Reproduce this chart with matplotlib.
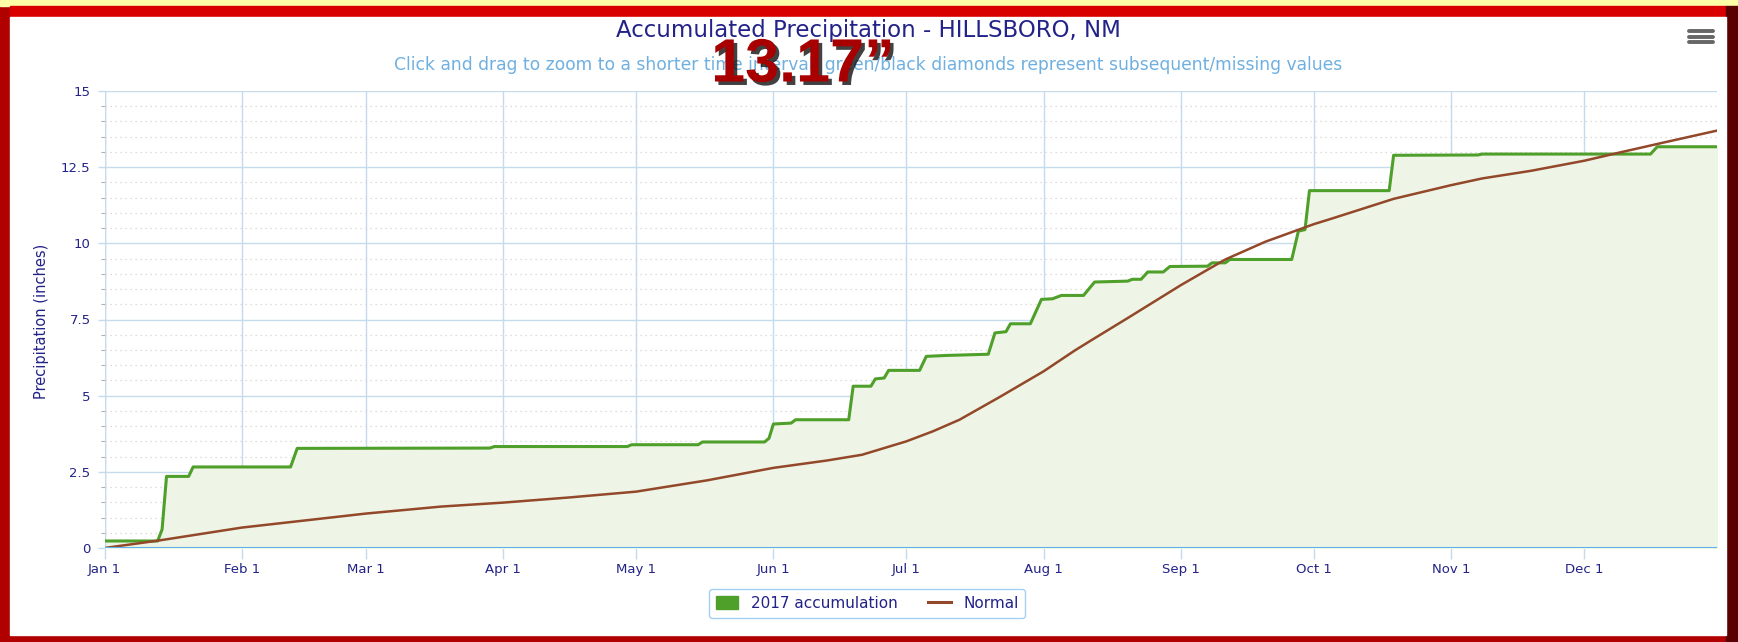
import matplotlib
matplotlib.use('Agg')
import matplotlib.pyplot as plt
import matplotlib.patheffects as pe
from matplotlib.patches import Rectangle, Patch
from matplotlib.lines import Line2D
from matplotlib.ticker import MultipleLocator, FuncFormatter

# Data (day of year, 0 = Jan 1)
month_days = [0, 31, 59, 90, 120, 151, 181, 212, 243, 273, 304, 334]
month_labels = ['Jan 1', 'Feb 1', 'Mar 1', 'Apr 1', 'May 1', 'Jun 1',
                'Jul 1', 'Aug 1', 'Sep 1', 'Oct 1', 'Nov 1', 'Dec 1']

acc_day = [0, 12, 13, 14, 19, 20, 42, 43.5, 87, 88, 118, 119, 134, 135, 149,
           150, 151, 155, 156, 168, 169, 173, 174, 176, 177, 184, 185.5, 190,
           199.5, 201, 203.5, 204.5, 209, 211.5, 214, 216, 221, 223.5, 231,
           232, 234, 235.5, 239, 240.5, 249, 250, 253, 254, 268, 269.5, 271,
           272, 290, 291, 310, 311, 349, 350.5, 364]
acc_val = [0.23, 0.23, 0.61, 2.35, 2.35, 2.66, 2.66, 3.27, 3.28, 3.33, 3.33,
           3.39, 3.39, 3.48, 3.48, 3.6, 4.07, 4.1, 4.21, 4.21, 5.31, 5.31,
           5.55, 5.58, 5.83, 5.83, 6.29, 6.32, 6.36, 7.06, 7.1, 7.36, 7.36,
           8.16, 8.18, 8.29, 8.29, 8.73, 8.76, 8.82, 8.82, 9.06, 9.06, 9.24,
           9.25, 9.36, 9.36, 9.47, 9.47, 10.4, 10.45, 11.73, 11.73, 12.89,
           12.9, 12.93, 12.93, 13.17, 13.17]

norm_day = [0, 12, 31, 59, 76, 90, 105, 120, 136, 151, 163, 171, 181, 187,
            193, 202, 212, 219, 223, 231, 243, 253, 262, 273, 277, 291, 304,
            311, 322, 334, 342, 352, 364]
norm_val = [0.0, 0.24, 0.67, 1.13, 1.36, 1.49, 1.66, 1.85, 2.22, 2.63, 2.87,
            3.06, 3.50, 3.83, 4.21, 4.95, 5.80, 6.48, 6.84, 7.55, 8.63, 9.47,
            10.05, 10.63, 10.81, 11.46, 11.91, 12.13, 12.38, 12.71, 12.98,
            13.31, 13.70]

navy = '#222288'
green = '#4f9f2b'
brown = '#93482a'

fig = plt.figure(figsize=(17.38, 6.42), dpi=100, facecolor='#b00000')
W, H = 1738, 642

def px_rect(x0, y0, x1, y1, color):
    fig.patches.append(Rectangle((x0 / W, 1 - y1 / H), (x1 - x0) / W, (y1 - y0) / H,
                                 transform=fig.transFigure, color=color, zorder=-10))

# frame
px_rect(0, 0, W, 6, '#ffffa8')
px_rect(10, 6, W - 12, 17, '#d90000')
px_rect(1726, 6, W, H, '#5a0000')
px_rect(10, 17, 1726, 635, 'white')

ax = fig.add_axes([104.5 / W, 1 - 548 / H, (1717 - 104.5) / W, (548 - 91) / H])
ax.set_facecolor('white')

ax.fill_between(acc_day, acc_val, 0, color='#eef5e6', zorder=1)
ax.plot(acc_day, acc_val, color=green, lw=2.2, zorder=4)
ax.plot(norm_day, norm_val, color=brown, lw=1.8, zorder=5)

ax.set_xlim(0, 364)
ax.set_ylim(0, 15)
ax.set_xticks(month_days)
ax.set_xticklabels(month_labels)
ax.yaxis.set_major_locator(MultipleLocator(2.5))
ax.yaxis.set_minor_locator(MultipleLocator(0.5))
ax.yaxis.set_major_formatter(FuncFormatter(lambda v, p: f'{v:g}'))

ax.grid(axis='x', color='#c3dbec', lw=1.0, zorder=2)
ax.grid(axis='y', which='major', color='#c6dcec', lw=1.0, zorder=2)
ax.grid(axis='y', which='minor', color='#d2d2d2', lw=0.9, linestyle=(0, (1, 3)), zorder=2)
ax.set_axisbelow(True)

for s in ax.spines.values():
    s.set_visible(False)
ax.axhline(0, color='#5eb0e6', lw=1.5, zorder=6)
ax.axvline(0, color='#c3dbec', lw=1.0, zorder=2)

ax.tick_params(axis='x', length=8, color='#c3dbec', width=1, pad=3,
               labelsize=9.5, labelcolor=navy)
ax.tick_params(axis='y', which='major', length=5, color='#c3dbec', width=1,
               pad=5, labelsize=9.5, labelcolor=navy)
ax.tick_params(axis='y', which='minor', length=3, color='#b0b0b0', width=0.8)

fig.text(42 / W, 1 - 321 / H, 'Precipitation (inches)', rotation=90,
         ha='center', va='center', color=navy, fontsize=10.5)

fig.text(868 / W, 1 - 31 / H, 'Accumulated Precipitation - HILLSBORO, NM',
         ha='center', va='center', fontsize=16.5, color=navy)
fig.text(868 / W, 1 - 65 / H,
         'Click and drag to zoom to a shorter time interval; green/black diamonds represent subsequent/missing values',
         ha='center', va='center', fontsize=12.3, color='#6fb0e0')

fig.text(803 / W, 1 - 66 / H, '13.17\u201d', ha='center', va='center',
         fontsize=44, fontweight='bold', color='#a80000',
         family=['Liberation Sans', 'DejaVu Sans'],
         path_effects=[pe.withSimplePatchShadow(offset=(2.5, -2.5), shadow_rgbFace='#111111', alpha=0.8)])

# menu icon
for yy in (31, 36.5, 42):
    fig.lines.append(Line2D([1689 / W, 1713 / W], [1 - yy / H, 1 - yy / H],
                            transform=fig.transFigure, color='#666666', lw=2.8,
                            solid_capstyle='round'))

handles = [Patch(facecolor=green, edgecolor=green),
           Line2D([0], [0], color=brown, lw=2.2)]
leg = fig.legend(handles, ['2017 accumulation', 'Normal'], loc='center',
                 bbox_to_anchor=(867 / W, 1 - 603.5 / H), ncol=2, fontsize=11,
                 frameon=True, fancybox=True, edgecolor='#8cc6ec',
                 handlelength=1.5, handleheight=0.9, columnspacing=2.0,
                 borderpad=0.45)
for t in leg.get_texts():
    t.set_color(navy)
leg.get_frame().set_linewidth(1.0)

plt.savefig('out.png', dpi=100, facecolor=fig.get_facecolor())
